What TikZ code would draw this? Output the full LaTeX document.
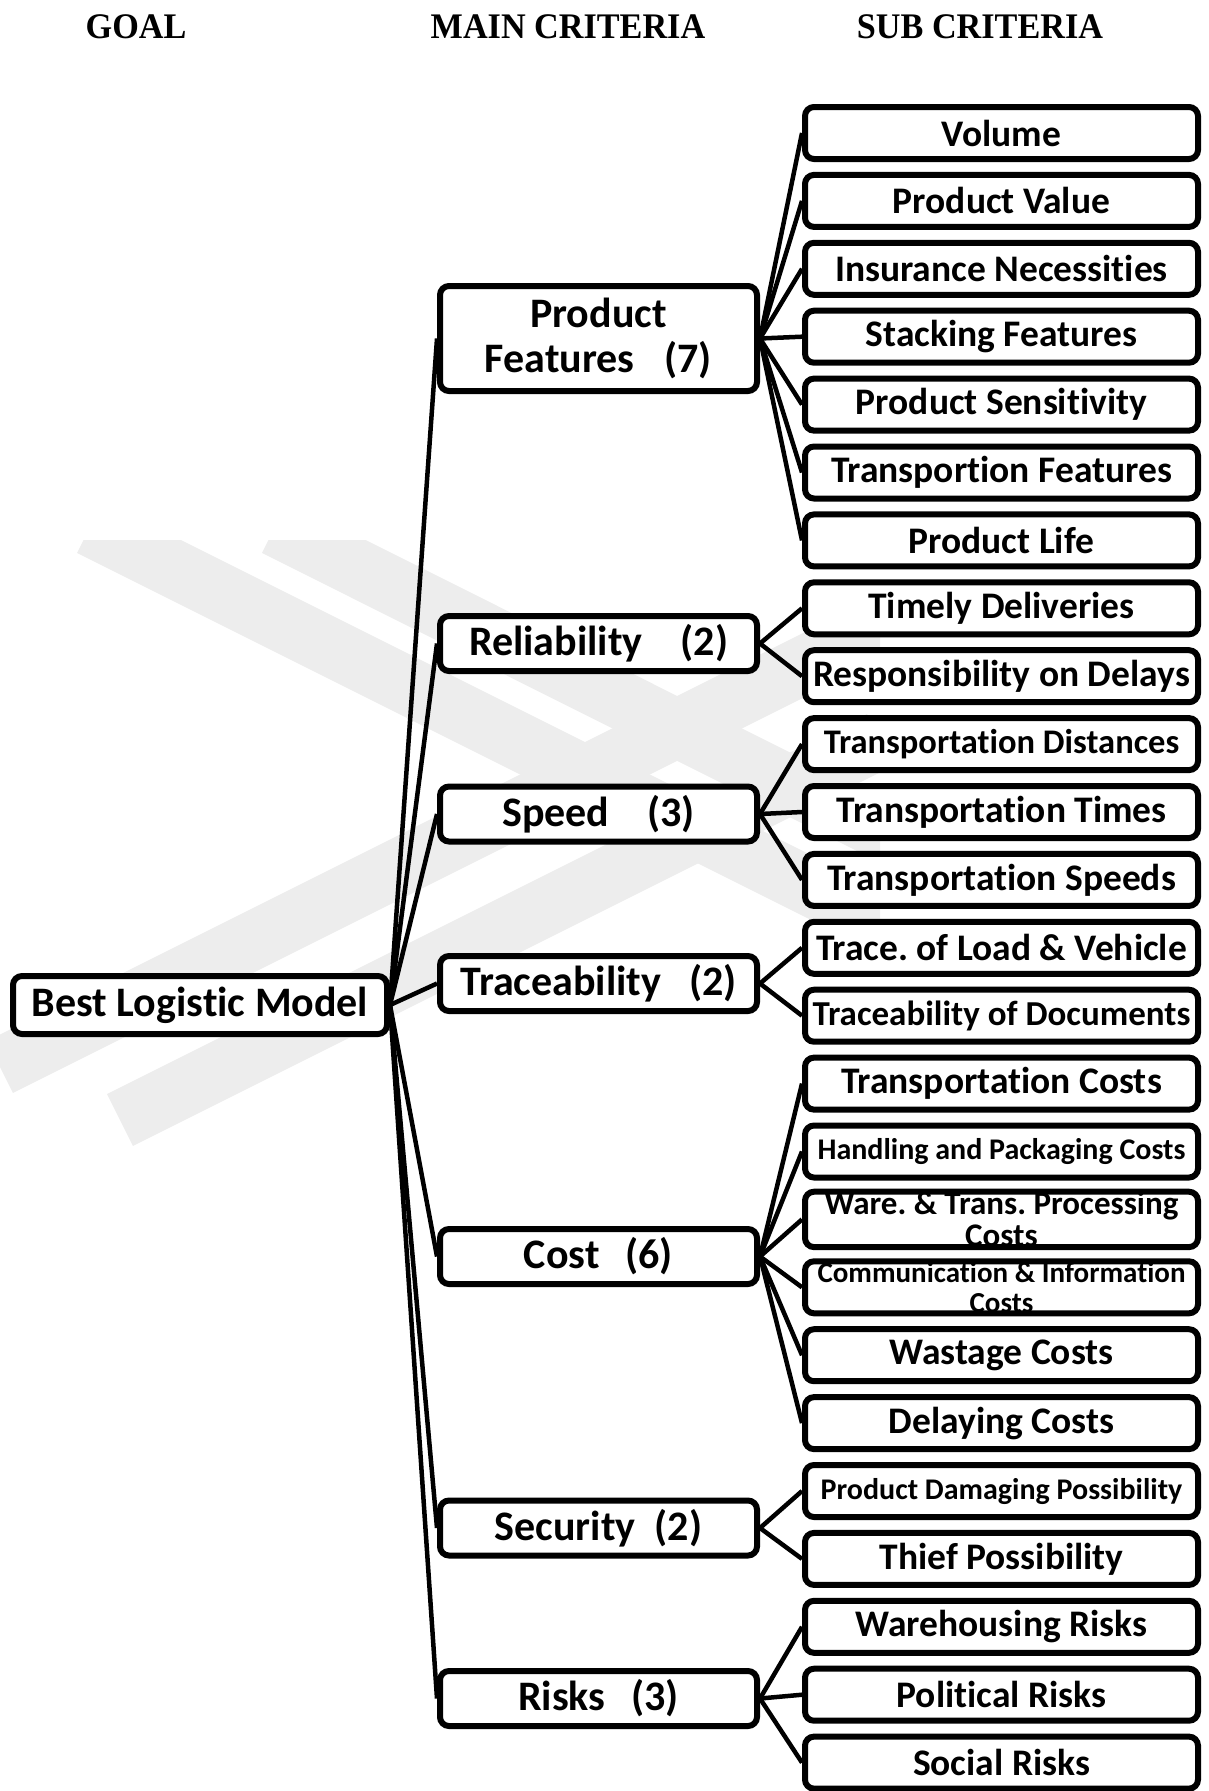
\documentclass[tikz,border=0pt]{standalone}
\usepackage{fontspec}
\setmainfont{Liberation Serif}
\setsansfont{Carlito}[Ligatures=NoCommon]
\usetikzlibrary{backgrounds}
\pgfdeclarelayer{links}
\pgfsetlayers{background,links,main}
\frenchspacing

\tikzset{
  heading/.style={anchor=base, font=\rmfamily\bfseries\fontsize{36}{36}\selectfont},
  box/.style={draw=black, line width=6pt, rounded corners=9pt, fill=white,
    inner sep=0pt, align=center, font=\sffamily\bfseries},
  goalbox/.style={box, minimum width=374pt, minimum height=58pt,
    font=\sffamily\bfseries\fontsize{42}{45}\selectfont},
  mainbox/.style={box, minimum width=317pt, minimum height=55pt,
    font=\sffamily\bfseries\fontsize{42}{45}\selectfont},
  subbox/.style={box, minimum width=393pt, minimum height=52pt,
    font=\sffamily\bfseries\fontsize{37.5}{38}\selectfont},
  link/.style={draw=black, line width=4.5pt},
  band/.style={draw=black!7, line width=58pt, line cap=butt},
}

\begin{document}
\begin{tikzpicture}[x=1pt, y=-1pt]
\useasboundingbox (0,0) rectangle (1208,1791);

% faint background watermark bands
\begin{pgfonlayer}{background}
  \begin{scope}
    \clip (0,540) rectangle (880,1200);
    \draw[band] (90,527) -- (900,932);
    \draw[band] (275,527) -- (900,840);
    \draw[band] (0,1067) -- (880,627);
    \draw[band] (120,1120) -- (880,740);
  \end{scope}
\end{pgfonlayer}

% column headings
\node[heading] (hgoal) at (136,38) {\scalebox{0.95}[1]{GOAL}};
\node[heading] (hmain) at (568,38) {\scalebox{0.95}[1]{MAIN CRITERIA}};
\node[heading] (hsub)  at (980,38) {\scalebox{0.95}[1]{SUB CRITERIA}};

% goal
\node[goalbox] (goal) at (200,1005) {Best Logistic Model};

% main criteria
\node[mainbox, minimum height=105pt] (m1) at (598.5,338.5) {Product\\Features\hspace{30pt}(7)};
\node[mainbox] (m2) at (598.5,643.5) {Reliability\hspace{38pt}(2)};
\node[mainbox] (m3) at (598.5,814)   {Speed\hspace{38pt}(3)};
\node[mainbox] (m4) at (598.5,983.5) {Traceability\hspace{28pt}(2)};
\node[mainbox] (m5) at (598.5,1256.5){Cost\hspace{26pt}(6)};
\node[mainbox] (m6) at (598.5,1528)  {Security\hspace{19pt}(2)};
\node[mainbox] (m7) at (598.5,1698.5){Risks\hspace{26pt}(3)};

% sub criteria, one row every 67.9 units
\def\sy#1{133+67.9*(#1-1)}
\node[subbox] (s1)  at (1001.5,{\sy{1}})  {Volume};
\node[subbox] (s2)  at (1001.5,{\sy{2}})  {Product Value};
\node[subbox] (s3)  at (1001.5,{\sy{3}})  {Insurance Necessities};
\node[subbox] (s4)  at (1001.5,{\sy{4}})  {Stacking Features};
\node[subbox] (s5)  at (1001.5,{\sy{5}})  {Product Sensitivity};
\node[subbox] (s6)  at (1001.5,{\sy{6}})  {Transportion Features};
\node[subbox] (s7)  at (1001.5,{\sy{7}})  {Product Life};
\node[subbox] (s8)  at (1001.5,{\sy{8}})  {Timely Deliveries};
\node[subbox] (s9)  at (1001.5,{\sy{9}})  {Responsibility on Delays};
\node[subbox, font=\sffamily\bfseries\fontsize{34.5}{36}\selectfont] (s10) at (1001.5,{\sy{10}}) {Transportation Distances};
\node[subbox] (s11) at (1001.5,{\sy{11}}) {Transportation Times};
\node[subbox] (s12) at (1001.5,{\sy{12}}) {Transportation Speeds};
\node[subbox] (s13) at (1001.5,{\sy{13}}) {Trace. of Load \& Vehicle};
\node[subbox, font=\sffamily\bfseries\fontsize{35}{36}\selectfont] (s14) at (1001.5,{\sy{14}}) {Traceability of Documents};
\node[subbox] (s15) at (1001.5,{\sy{15}}) {Transportation Costs};
\node[subbox, font=\sffamily\bfseries\fontsize{30}{32}\selectfont] (s16) at (1001.5,{\sy{16}}) {Handling and Packaging Costs};
\node[subbox, font=\sffamily\bfseries\fontsize{33}{32}\selectfont] (s17) at (1001.5,{\sy{17}}) {Ware. \& Trans. Processing\\Costs};
\node[subbox, font=\sffamily\bfseries\fontsize{29}{30}\selectfont] (s18) at (1001.5,{\sy{18}}) {Communication \& Information\\Costs};
\node[subbox] (s19) at (1001.5,{\sy{19}}) {Wastage Costs};
\node[subbox] (s20) at (1001.5,{\sy{20}}) {Delaying Costs};
\node[subbox, font=\sffamily\bfseries\fontsize{30}{32}\selectfont] (s21) at (1001.5,{\sy{21}}) {Product Damaging Possibility};
\node[subbox] (s22) at (1001.5,{\sy{22}}) {Thief Possibility};
\node[subbox] (s23) at (1001.5,{\sy{23}}) {Warehousing Risks};
\node[subbox] (s24) at (1001.5,{\sy{24}}) {Political Risks};
\node[subbox] (s25) at (1001.5,{\sy{25}}) {Social Risks};

% connectors, drawn beneath the boxes
\begin{pgfonlayer}{links}
  \foreach \m in {1,...,7} \draw[link] (goal.east) -- (m\m.west);
  \foreach \s in {1,...,7}   \draw[link] (m1.east) -- (s\s.west);
  \foreach \s in {8,9}       \draw[link] (m2.east) -- (s\s.west);
  \foreach \s in {10,11,12}  \draw[link] (m3.east) -- (s\s.west);
  \foreach \s in {13,14}     \draw[link] (m4.east) -- (s\s.west);
  \foreach \s in {15,...,20} \draw[link] (m5.east) -- (s\s.west);
  \foreach \s in {21,22}     \draw[link] (m6.east) -- (s\s.west);
  \foreach \s in {23,24,25}  \draw[link] (m7.east) -- (s\s.west);
\end{pgfonlayer}
\end{tikzpicture}
\end{document}
